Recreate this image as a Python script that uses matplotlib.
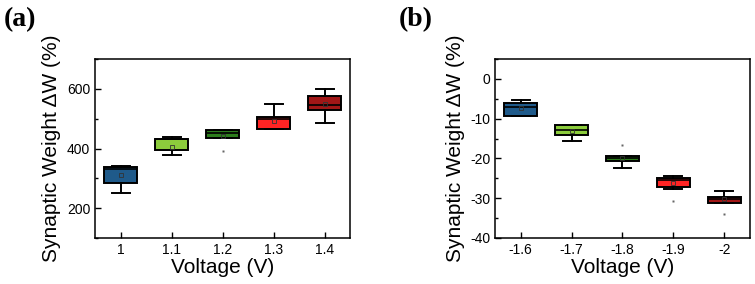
import matplotlib.pyplot as plt
from matplotlib.ticker import MultipleLocator

plt.rcParams['font.family'] = ['Liberation Sans', 'DejaVu Sans']
plt.rcParams['axes.unicode_minus'] = False

colors = ['#1f5a8a', '#8ccc3c', '#2c7d1c', '#ff2424', '#a11616']

# panel (a): positive pulses
volt_a = ['1', '1.1', '1.2', '1.3', '1.4']
q1_a = [284, 394, 434, 467, 528]
med_a = [333, 431, 453, 499, 545]
q3_a = [338, 432, 461, 505, 576]
lo_a = [251, 378, 434, 464, 486]
hi_a = [341, 440, 461, 548, 601]
mean_a = [312, 405, 443, 494, 548]
fliers_a = [[], [], [391], [], []]

# panel (b): negative pulses
volt_b = ['-1.6', '-1.7', '-1.8', '-1.9', '-2']
q1_b = [-9.2, -14.1, -20.7, -27.1, -31.1]
med_b = [-7.1, -12.8, -19.8, -25.4, -30.3]
q3_b = [-6.1, -11.7, -19.3, -24.9, -29.6]
lo_b = [-9.3, -15.7, -22.4, -27.8, -31.1]
hi_b = [-5.4, -11.7, -19.3, -24.5, -28.1]
mean_b = [-7.2, -13.0, -19.9, -26.2, -30.3]
fliers_b = [[], [], [-16.6], [-30.7], [-34.0]]


def draw(ax, labels, q1, med, q3, lo, hi, mean, fliers):
    stats = []
    for i in range(len(labels)):
        stats.append({'q1': q1[i], 'med': med[i], 'q3': q3[i], 'whislo': lo[i],
                      'whishi': hi[i], 'mean': mean[i], 'fliers': fliers[i]})
    bp = ax.bxp(stats, positions=range(1, len(labels) + 1), widths=0.65,
                patch_artist=True, showmeans=True, capwidths=0.35,
                boxprops=dict(edgecolor='black', linewidth=1.4),
                medianprops=dict(color='black', linewidth=1.2),
                whiskerprops=dict(color='black', linewidth=1.4),
                capprops=dict(color='black', linewidth=1.4),
                meanprops=dict(marker='s', markersize=2.5, markerfacecolor='none',
                               markeredgecolor='#333333', markeredgewidth=0.6),
                flierprops=dict(marker='s', markersize=1.5, markerfacecolor='#666666',
                                markeredgecolor='none'))
    for patch, c in zip(bp['boxes'], colors):
        patch.set_facecolor(c)
    ax.set_xlim(0.5, 5.5)
    ax.set_xticks(range(1, len(labels) + 1))
    ax.set_xticklabels(labels)
    ax.tick_params(direction='in', labelsize=10, width=1, length=4)
    ax.tick_params(which='minor', direction='in', width=1, length=2)
    ax.tick_params(axis='x', which='minor', bottom=False)
    for s in ax.spines.values():
        s.set_linewidth(1.1)
    ax.set_xlabel('Voltage (V)', fontsize=15, labelpad=1)
    ax.set_ylabel('Synaptic Weight ΔW (%)', fontsize=15, labelpad=4)


fig = plt.figure(figsize=(7.55, 2.84), dpi=100)
ax1 = fig.add_axes([0.126, 0.162, 0.338, 0.630])
ax2 = fig.add_axes([0.656, 0.162, 0.337, 0.630])

draw(ax1, volt_a, q1_a, med_a, q3_a, lo_a, hi_a, mean_a, fliers_a)
ax1.set_ylim(100, 700)
ax1.yaxis.set_major_locator(MultipleLocator(200))
ax1.yaxis.set_minor_locator(MultipleLocator(100))

draw(ax2, volt_b, q1_b, med_b, q3_b, lo_b, hi_b, mean_b, fliers_b)
ax2.set_ylim(-40, 5)
ax2.yaxis.set_major_locator(MultipleLocator(10))
ax2.yaxis.set_minor_locator(MultipleLocator(5))

fig.text(0.005, 0.975, '(a)', fontsize=20, fontweight='bold',
         family='Liberation Serif', va='top')
fig.text(0.528, 0.975, '(b)', fontsize=20, fontweight='bold',
         family='Liberation Serif', va='top')

fig.savefig('out.png', dpi=100)
